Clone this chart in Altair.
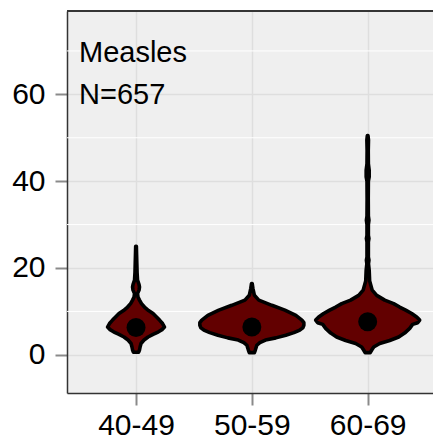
import altair as alt
import pandas as pd

# Category labels (x) and their positions
groups = ["40-49", "50-59", "60-69"]
group_pos = [1, 2, 3]

# Violin profiles: value (y) and half-width (fraction of category spacing)
v1_values = [0.6, 1.1, 1.8, 2.6, 3.4, 4.1, 4.7, 5.3, 5.8, 6.4, 7.2, 8.0, 8.7, 9.5, 10.2, 11.0, 11.8,
             12.6, 13.3, 14.1, 14.9, 15.6, 16.2, 17.2, 19.0, 21.0, 23.0, 25.0]
v1_density = [0.022, 0.030, 0.035, 0.043, 0.069, 0.104, 0.147, 0.194, 0.224, 0.246, 0.229, 0.203,
              0.177, 0.147, 0.108, 0.073, 0.047, 0.030, 0.017, 0.013, 0.026, 0.030, 0.026, 0.013,
              0.009, 0.007, 0.005, 0.003]

v2_values = [0.5, 1.1, 2.2, 2.8, 3.4, 3.9, 4.5, 5.1, 5.7, 6.2, 6.8, 7.4, 8.0, 9.1, 10.3, 11.4, 12.6,
             13.7, 15.3, 16.4]
v2_density = [0.022, 0.030, 0.043, 0.069, 0.117, 0.207, 0.293, 0.363, 0.414, 0.440, 0.449, 0.449,
              0.432, 0.380, 0.285, 0.173, 0.060, 0.022, 0.009, 0.003]

v3_values = [0.5, 1.1, 1.8, 2.6, 3.3, 4.1, 5.0, 6.1, 7.0, 7.4, 8.0, 8.7, 9.5, 10.3, 11.0, 11.8, 12.6,
             13.7, 14.9, 17.0, 19.5, 21.0, 21.8, 22.5, 26.0, 26.8, 27.5, 30.0, 31.0, 32.0, 36.0, 40.0,
             41.0, 42.5, 44.0, 47.0, 49.5, 50.5]
v3_density = [0.022, 0.035, 0.052, 0.104, 0.190, 0.268, 0.319, 0.363, 0.388, 0.432, 0.449, 0.423,
              0.380, 0.328, 0.276, 0.224, 0.147, 0.078, 0.039, 0.017, 0.013, 0.007, 0.011, 0.006,
              0.006, 0.011, 0.006, 0.006, 0.011, 0.006, 0.005, 0.006, 0.013, 0.013, 0.006, 0.005,
              0.007, 0.003]

medians = [6.3, 6.4, 7.6]

annotation = ["Measles", "N=657"]

y_ticks = [0, 20, 40, 60]
y_minor = [10, 30, 50, 70]
y_domain = [-8.8, 79.2]
x_domain = [0.404, 3.564]

rows = []
for pos, vals, dens in zip(group_pos, [v1_values, v2_values, v3_values],
                           [v1_density, v2_density, v3_density]):
    for v, d in zip(vals, dens):
        rows.append({"g": pos, "value": v, "d": d})
violin_df = pd.DataFrame(rows)
median_df = pd.DataFrame({"g": group_pos, "median": medians})
minor_df = pd.DataFrame({"m": y_minor})

W, H = 366, 382
FONT = "Liberation Sans"

label_expr = "[" + ",".join("'" + g + "'" for g in groups) + "][datum.value - 1]"

xscale = alt.Scale(domain=x_domain, nice=False, zero=False)
yscale = alt.Scale(domain=y_domain, nice=False, zero=False)

xaxis = alt.Axis(values=group_pos, labelExpr=label_expr, title=None, grid=True,
                 labelPadding=5, labelFontSize=30)
yaxis = alt.Axis(values=y_ticks, title=None, grid=True, labelPadding=10, labelFontSize=30)

minor = alt.Chart(minor_df).mark_rule(color="#FFFFFF", strokeWidth=1).encode(
    y=alt.Y("m:Q", scale=yscale, axis=yaxis),
)

violins = alt.Chart(violin_df).transform_calculate(
    lo="datum.g - datum.d", hi="datum.g + datum.d"
).mark_area(
    orient="horizontal", color="#620000", stroke="#000000", strokeWidth=3.6,
    interpolate="linear", strokeJoin="round"
).encode(
    y=alt.Y("value:Q", scale=yscale, axis=yaxis),
    x=alt.X("lo:Q", scale=xscale, axis=xaxis),
    x2="hi:Q",
    detail="g:N",
)

points = alt.Chart(median_df).mark_circle(color="#000000", opacity=1, size=360).encode(
    x=alt.X("g:Q", scale=xscale, axis=xaxis),
    y=alt.Y("median:Q", scale=yscale, axis=yaxis),
)

text_layers = []
for i, label in enumerate(annotation):
    text_layers.append(
        alt.Chart(pd.DataFrame({"label": [label]})).mark_text(
            align="left", baseline="alphabetic", font=FONT, fontSize=29, color="#000000"
        ).encode(
            x=alt.value(12),
            y=alt.value(51 + 42 * i),
            text="label:N",
        )
    )

top_border = alt.Chart(median_df).mark_rule(color="#333333", strokeWidth=1.5).encode(
    x=alt.value(0), x2=alt.value(W), y=alt.value(0)
)

chart = alt.layer(minor, violins, points, *text_layers, top_border).properties(
    width=W, height=H,
    padding={"left": 67, "top": 11, "right": 0, "bottom": 47},
    autosize=alt.AutoSizeParams(type="none"),
).configure_view(
    fill="#EFEFEF", stroke="transparent"
).configure_axis(
    labelFont=FONT, labelFontSize=29, labelColor="#000000",
    tickColor="#8A8A8A", tickWidth=2, tickSize=12,
    domainColor="#333333", domainWidth=1.5,
    gridColor="#DEDEDE", gridWidth=1.5,
)

chart.save("out.html", embed_options={"renderer": "svg", "actions": False})
